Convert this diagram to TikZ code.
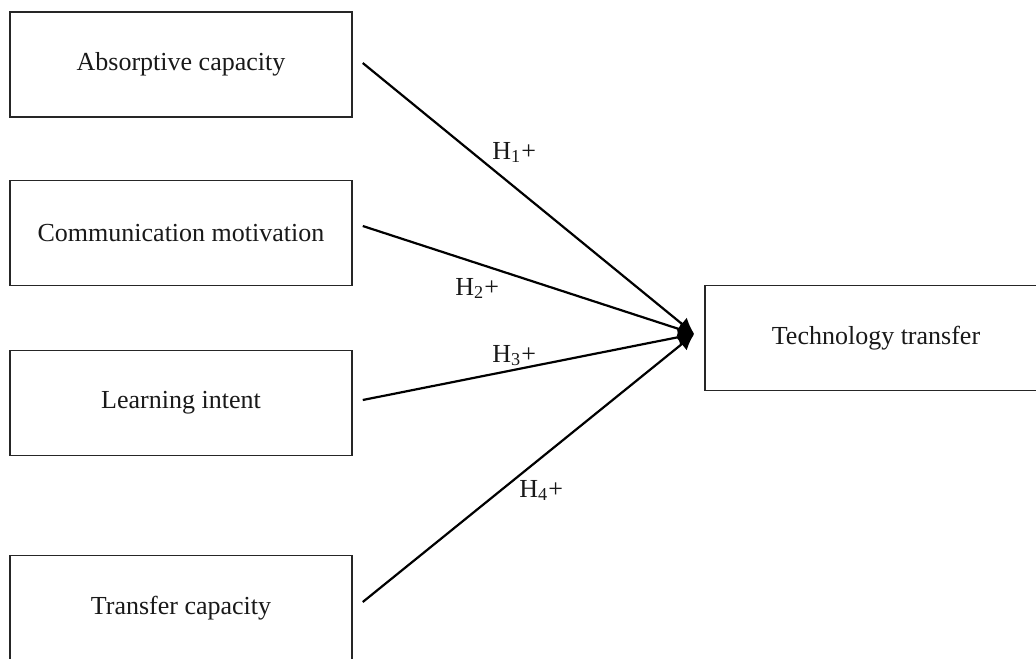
\documentclass[tikz,border=0pt]{standalone}
\usepackage{fontspec}
\setmainfont{Liberation Serif}
\usetikzlibrary{arrows.meta}
\begin{document}
\begin{tikzpicture}[x=0.5pt,y=-0.5pt,
  box/.style={draw=black!85,line width=0.75pt,minimum width=171pt,minimum height=52.5pt,inner sep=0pt,
    font=\fontsize{13}{15}\selectfont,text=black!90},
  conn/.style={line width=1.1pt,-{Latex[length=8pt,width=8pt]}},
  lab/.style={inner sep=0pt,anchor=base west,font=\fontsize{13}{15}\selectfont,text=black!90}]
\clip (0,0) rectangle (1036,658);
\fill[white] (0,0) rectangle (1036,658);
\node[box] (a) at (181,64.5) {Absorptive capacity};
\node[box] (b) at (181,233) {Communication motivation};
\node[box] (c) at (181,403) {Learning intent};
\node[box] (d) at (181,608) {Transfer capacity};
\node[box] (t) at (876,338) {Technology transfer};
\coordinate (tip) at ([xshift=-5pt,yshift=2pt]t.west);
\draw[conn] ([xshift=5pt,yshift=0.75pt]a.east) -- (tip);
\draw[conn] ([xshift=5pt,yshift=3.5pt]b.east) -- (tip);
\draw[conn] ([xshift=5pt,yshift=1.5pt]c.east) -- (tip);
\draw[conn] ([xshift=5pt,yshift=3pt]d.east) -- (tip);
\node[lab] (h1) at (492,159) {H\textsubscript{1}+};
\node[lab] (h2) at (455,295) {H\textsubscript{2}+};
\node[lab] (h3) at (492,362) {H\textsubscript{3}+};
\node[lab] (h4) at (519,497) {H\textsubscript{4}+};
\end{tikzpicture}
\end{document}
